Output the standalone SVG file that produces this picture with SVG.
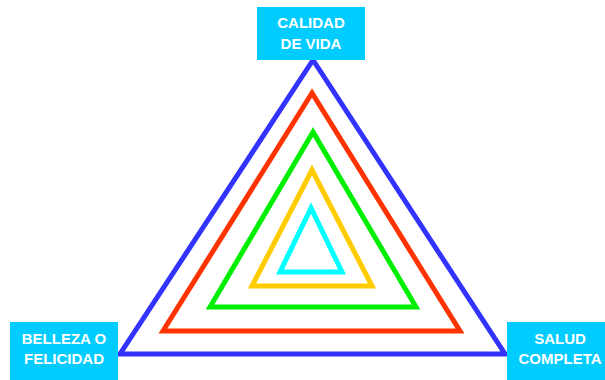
<svg xmlns="http://www.w3.org/2000/svg" width="605" height="380" viewBox="0 0 605 380">
<style>
.box{fill:#00ccff}
.lbl{font-family:"Liberation Sans",Arial,sans-serif;font-weight:bold;font-size:15px;fill:#ffffff;text-anchor:middle}
.tri{fill:none;stroke-width:5;stroke-linejoin:miter}
</style>
<rect width="605" height="380" fill="#ffffff"/>
<g id="connectors">
<polygon class="tri" stroke="#3333ff" points="313,60 120,354 505,354"/>
<polygon class="tri" stroke="#ff3300" points="312,93 163,331 460,331"/>
<polygon class="tri" stroke="#00ee00" points="313,132 210,307 416,307"/>
<polygon class="tri" stroke="#ffcc00" points="312,170 252,286 372,286"/>
<polygon class="tri" stroke="#00ffff" stroke-width="4" points="311,208 280,272 342,272"/>
</g>
<g id="calidad">
<rect class="box" x="257" y="7" width="108" height="53"/>
<text class="lbl" x="311" y="28">CALIDAD</text>
<text class="lbl" x="311" y="49">DE VIDA</text>
</g>
<g id="belleza">
<rect class="box" x="10" y="322" width="108" height="58"/>
<text class="lbl" x="64" y="344">BELLEZA O</text>
<text class="lbl" x="64" y="364">FELICIDAD</text>
</g>
<g id="salud">
<rect class="box" x="507" y="322" width="98" height="58"/>
<text class="lbl" x="560" y="344">SALUD</text>
<text class="lbl" x="560" y="364">COMPLETA</text>
</g>
</svg>
